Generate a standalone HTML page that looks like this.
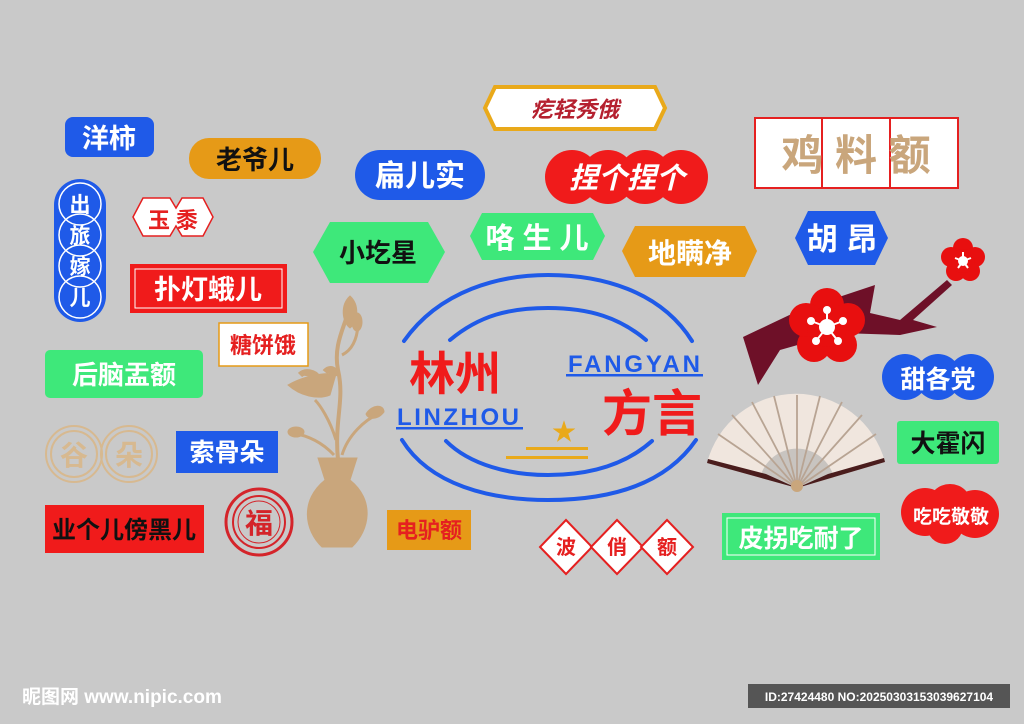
<!DOCTYPE html>
<html><head><meta charset="utf-8"><style>
html,body{margin:0;padding:0;background:#c9c9c9;width:1024px;height:724px;overflow:hidden}
svg{display:block}
text{font-family:"Liberation Sans","Noto Sans CJK SC",sans-serif;font-weight:bold}
</style></head><body>
<svg width="1024" height="724" viewBox="0 0 1024 724" xmlns="http://www.w3.org/2000/svg">
<rect width="1024" height="724" fill="#c9c9c9"/>

<!-- 洋柿 -->
<rect x="65" y="117" width="89" height="40" rx="8" fill="#1f5ae8"/>
<text x="109" y="148" font-size="27" fill="#fff" text-anchor="middle">洋柿</text>
<!-- 老爷儿 -->
<rect x="189" y="138" width="132" height="41" rx="20" fill="#e69a17"/>
<text x="255" y="169" font-size="26" fill="#111" text-anchor="middle">老爷儿</text>
<!-- 出放嫁儿 -->
<rect x="54" y="179" width="52" height="143" rx="26" fill="#1f5ae8"/>
<g fill="none" stroke="#fff" stroke-width="1.5">
<circle cx="80" cy="204" r="21"/><circle cx="80" cy="235" r="21"/><circle cx="80" cy="266" r="21"/><circle cx="80" cy="297" r="21"/></g>
<g font-size="21" fill="#fff" text-anchor="middle"><text x="80" y="212">出</text><text x="80" y="243">旅</text><text x="80" y="274">嫁</text><text x="80" y="305">儿</text></g>
<!-- 玉黍 -->
<polygon points="133,217 143,198 170,198 176,208 182,198 203,198 213,217 203,236 182,236 176,226 170,236 143,236" fill="#fff" stroke="#e52020" stroke-width="1.5"/>
<text x="173" y="228" font-size="22" fill="#e52020" text-anchor="middle">玉 黍</text>
<!-- 扑灯蛾儿 -->
<rect x="130" y="264" width="157" height="49" fill="#f01b1b"/>
<rect x="135" y="269" width="147" height="39" fill="none" stroke="#fff" stroke-width="1"/>
<text x="208" y="299" font-size="27" fill="#fff" text-anchor="middle">扑灯蛾儿</text>
<!-- 糖饼饿 -->
<rect x="219" y="323" width="89" height="43" fill="#fff" stroke="#e69a17" stroke-width="1.5"/>
<text x="263" y="353" font-size="22" fill="#e52020" text-anchor="middle">糖饼饿</text>
<!-- 后脑盂额 -->
<rect x="45" y="350" width="158" height="48" rx="5" fill="#3ee87a"/>
<text x="124" y="384" font-size="26" fill="#fff" text-anchor="middle" font-weight="normal">后脑盂额</text>
<!-- 谷朵 -->
<g fill="none" stroke="#d7b990" stroke-width="2"><circle cx="74" cy="454" r="28"/><circle cx="74" cy="454" r="23"/><circle cx="129" cy="454" r="28"/><circle cx="129" cy="454" r="23"/></g>
<text x="74" y="465" font-size="28" fill="#d7b990" text-anchor="middle">谷</text>
<text x="129" y="465" font-size="28" fill="#d7b990" text-anchor="middle">朵</text>
<!-- 索骨朵 -->
<rect x="176" y="431" width="102" height="42" fill="#1f5ae8"/>
<text x="227" y="461" font-size="25" fill="#fff" text-anchor="middle" font-weight="normal">索骨朵</text>
<!-- 福 -->
<circle cx="259" cy="522" r="33" fill="none" stroke="#d4242a" stroke-width="3"/>
<circle cx="259" cy="522" r="26" fill="none" stroke="#d4242a" stroke-width="2"/>
<circle cx="259" cy="522" r="21" fill="none" stroke="#d4242a" stroke-width="1"/>
<text x="259" y="533" font-size="28" fill="#d4242a" text-anchor="middle" font-weight="normal">福</text>
<!-- 业个儿傍黑儿 -->
<rect x="45" y="505" width="159" height="48" fill="#f01b1b"/>
<text x="124" y="538" font-size="24" fill="#111" text-anchor="middle">业个儿傍黑儿</text>

<!-- vase -->
<g fill="#c9a67c" stroke="#c9a67c">
<path d="M318,458 L357,458 L350,480 C375,500 370,530 352,547 L322,547 C304,530 300,500 325,480 Z"/>
<path d="M338,460 C334,420 345,400 338,370 C332,340 350,320 350,300" fill="none" stroke-width="4"/>
<path d="M350,296 C360,305 358,322 350,328 C342,322 340,305 350,296Z"/>
<path d="M336,440 C330,420 320,405 315,400" fill="none" stroke-width="3"/>
<path d="M288,385 C300,378 320,372 336,374 L330,395 C318,400 300,396 288,385Z"/>
<path d="M300,375 C305,370 315,372 318,378 M325,372 C330,366 337,370 336,376" stroke-width="6"/>
<path d="M342,455 C348,435 365,420 378,414" fill="none" stroke-width="3"/>
<path d="M366,414 C372,404 384,404 384,412 C378,420 368,420 366,414Z"/>
<path d="M334,455 C320,440 305,435 292,433" fill="none" stroke-width="3"/>
<ellipse cx="296" cy="432" rx="8" ry="5"/>
<path d="M342,355 C352,350 357,340 358,325" fill="none" stroke-width="3"/>
<ellipse cx="357" cy="322" rx="5" ry="9"/>
</g>

<!-- 扁儿实 -->
<path d="M380,150 L460,150 A25,25 0 0 1 460,200 L380,200 A25,25 0 0 1 380,150Z" fill="#1f5ae8"/>
<text x="420" y="186" font-size="30" fill="#fff" text-anchor="middle" font-weight="normal">扁儿实</text>
<!-- banner -->
<path d="M495,87 L655,87 L665,108 L655,129 L495,129 L485,108Z" fill="#fff" stroke="#e9a91a" stroke-width="4"/>
<text x="575" y="117" font-size="22" fill="#b5202f" text-anchor="middle" font-style="italic">疙轻秀俄</text>
<!-- 捏个捏个 -->
<g fill="#f01b1b"><circle cx="572" cy="177" r="27"/><circle cx="608" cy="177" r="27"/><circle cx="645" cy="177" r="27"/><circle cx="681" cy="177" r="27"/></g>
<text x="627" y="188" font-size="29" fill="#fff" text-anchor="middle" font-style="italic">捏个捏个</text>
<!-- 咯生儿 -->
<polygon points="470,236 482,213 593,213 605,236 593,260 482,260" fill="#3ee87a"/>
<text x="537" y="248" font-size="29" fill="#fff" text-anchor="middle" font-weight="normal">咯 生 儿</text>
<!-- 小圪星 -->
<polygon points="313,252 330,222 428,222 445,252 428,283 330,283" fill="#3ee87a"/>
<text x="378" y="262" font-size="26" fill="#111" text-anchor="middle">小圪星</text>
<!-- 地瞒净 -->
<polygon points="622,251 635,226 745,226 757,251 745,277 635,277" fill="#e69a17"/>
<text x="690" y="263" font-size="28" fill="#fff" text-anchor="middle" font-weight="normal">地瞒净</text>

<!-- center ellipse -->
<g fill="none" stroke="#1f5ae8" stroke-width="4" stroke-linecap="round">
<path d="M404,341 C440,290 500,275 548,275 C600,275 660,290 692,341"/>
<path d="M450,340 C480,315 510,308 548,308 C590,308 620,318 646,340"/>
<path d="M402,440 C430,485 490,500 548,500 C610,500 665,485 696,440"/>
<path d="M446,441 C470,465 510,475 548,475 C590,475 625,465 652,441"/>
</g>
<text x="455" y="390" font-size="46" fill="#f01b1b" text-anchor="middle">林州</text>
<text x="458" y="425" font-size="24" fill="#1f5ae8" text-anchor="middle" font-family="Liberation Sans" textLength="122">LINZHOU</text>
<rect x="396" y="427" width="127" height="2.5" fill="#1f5ae8"/>
<text x="634" y="372" font-size="24" fill="#1f5ae8" text-anchor="middle" textLength="132">FANGYAN</text>
<rect x="566" y="374" width="137" height="2.5" fill="#1f5ae8"/>
<text x="652" y="431" font-size="50" fill="#f01b1b" text-anchor="middle">方言</text>
<text x="564" y="440" font-size="24" fill="#e9a91a" text-anchor="middle" font-family="DejaVu Sans">★</text>
<rect x="526" y="447" width="62" height="3" fill="#e9a91a"/>
<rect x="506" y="456" width="82" height="3" fill="#e9a91a"/>

<!-- 鸡料额 -->
<rect x="755" y="118" width="203" height="70" fill="#fff" stroke="#e52020" stroke-width="2"/>
<line x1="822" y1="118" x2="822" y2="188" stroke="#e52020" stroke-width="2"/>
<line x1="890" y1="118" x2="890" y2="188" stroke="#e52020" stroke-width="2"/>
<text x="856" y="170" font-size="42" fill="#c9a67c" text-anchor="middle">鸡 料 额</text>
<!-- 胡昂 -->
<path d="M808,211 L875,211 L888,238 L875,265 L808,265 L795,238Z" fill="#1f5ae8"/>
<text x="842" y="250" font-size="31" fill="#fff" text-anchor="middle" font-weight="normal">胡 昂</text>
<!-- branch -->
<polygon points="743,337 800,310 875,285 870,313 900,320 947,280 952,285 913,320 937,327 900,335 840,333 780,350 758,385" fill="#6e1028"/>
<!-- plum flowers -->
<g fill="#e80f0f">
<circle cx="827" cy="305" r="17"/><circle cx="848" cy="320" r="17"/><circle cx="840" cy="345" r="17"/><circle cx="814" cy="345" r="17"/><circle cx="806" cy="320" r="17"/><circle cx="827" cy="327" r="20"/>
<circle cx="963" cy="248" r="10"/><circle cx="975" cy="257" r="10"/><circle cx="970" cy="271" r="10"/><circle cx="956" cy="271" r="10"/><circle cx="951" cy="257" r="10"/><circle cx="963" cy="261" r="12"/>
</g>
<g fill="#fff" stroke="#fff" stroke-width="2">
<circle cx="827" cy="327" r="7"/>
<line x1="827" y1="327" x2="827" y2="310"/><line x1="827" y1="327" x2="843" y2="321"/><line x1="827" y1="327" x2="838" y2="341"/><line x1="827" y1="327" x2="816" y2="341"/><line x1="827" y1="327" x2="811" y2="321"/>
<circle cx="827" cy="310" r="3"/><circle cx="843" cy="321" r="3"/><circle cx="838" cy="341" r="3"/><circle cx="816" cy="341" r="3"/><circle cx="811" cy="321" r="3"/>
<circle cx="963" cy="261" r="4"/>
<line x1="963" y1="261" x2="963" y2="252"/><line x1="963" y1="261" x2="971" y2="258"/><line x1="963" y1="261" x2="968" y2="268"/><line x1="963" y1="261" x2="958" y2="268"/><line x1="963" y1="261" x2="955" y2="258"/>
</g>
<!-- 甜各党 -->
<g fill="#1f5ae8"><circle cx="905" cy="377" r="23"/><circle cx="938" cy="377" r="23"/><circle cx="971" cy="377" r="23"/></g>
<text x="938" y="388" font-size="25" fill="#fff" text-anchor="middle" font-weight="normal">甜各党</text>
<!-- 大霍闪 -->
<rect x="897" y="421" width="102" height="43" rx="3" fill="#3ee87a"/>
<text x="948" y="452" font-size="25" fill="#111" text-anchor="middle">大霍闪</text>
<!-- fan -->
<path d="M797,488 L707,463 A92,92 0 0 1 885,462 Z" fill="#f0e6de"/>
<path d="M797,488 L760,478 A38,38 0 0 1 834,478 Z" fill="#c8c4c0"/>
<path d="M797,488 L707,463 L708,459 L766,474 Z M797,488 L885,462 L884,458 L828,474 Z" fill="#4a1d1d"/>
<g stroke="#b8a493" stroke-width="1.8">
<line x1="797" y1="488" x2="718" y2="434"/><line x1="797" y1="488" x2="732" y2="415"/><line x1="797" y1="488" x2="752" y2="402"/><line x1="797" y1="488" x2="774" y2="396"/><line x1="797" y1="488" x2="797" y2="395"/><line x1="797" y1="488" x2="820" y2="396"/><line x1="797" y1="488" x2="842" y2="402"/><line x1="797" y1="488" x2="862" y2="415"/><line x1="797" y1="488" x2="876" y2="434"/>
</g>
<circle cx="797" cy="486" r="6" fill="#c9a67c"/>
<!-- 吃吃敬敬 -->
<g fill="#f01b1b"><circle cx="925" cy="512" r="24"/><circle cx="950" cy="506" r="22"/><circle cx="975" cy="514" r="24"/><circle cx="945" cy="526" r="18"/></g>
<text x="951" y="523" font-size="19" fill="#fff" text-anchor="middle">吃吃敬敬</text>
<!-- 皮拐吃耐了 -->
<rect x="722" y="513" width="158" height="47" fill="#3ee87a"/>
<rect x="727" y="518" width="148" height="37" fill="none" stroke="#fff"/>
<text x="801" y="547" font-size="25" fill="#fff" text-anchor="middle" font-weight="normal">皮拐吃耐了</text>
<!-- 波俏额 -->
<g fill="#fff" stroke="#e52020" stroke-width="2">
<polygon points="566,520 592,547 566,574 540,547"/>
<polygon points="617,520 643,547 617,574 591,547"/>
<polygon points="667,520 693,547 667,574 641,547"/>
</g>
<g font-size="20" fill="#e52020" text-anchor="middle"><text x="566" y="554">波</text><text x="617" y="554">俏</text><text x="667" y="554">额</text></g>
<!-- 电驴额 -->
<rect x="387" y="510" width="84" height="40" fill="#e69a17"/>
<text x="429" y="538" font-size="22" fill="#e52020" text-anchor="middle">电驴额</text>

<!-- footer -->
<text x="22" y="703" font-size="19" fill="#fff">昵图网 www.nipic.com</text>
<rect x="748" y="684" width="262" height="24" fill="#555"/>
<text x="879" y="701" font-size="12" fill="#fff" text-anchor="middle" font-weight="normal">ID:27424480 NO:20250303153039627104</text>
</svg>
</body></html>
